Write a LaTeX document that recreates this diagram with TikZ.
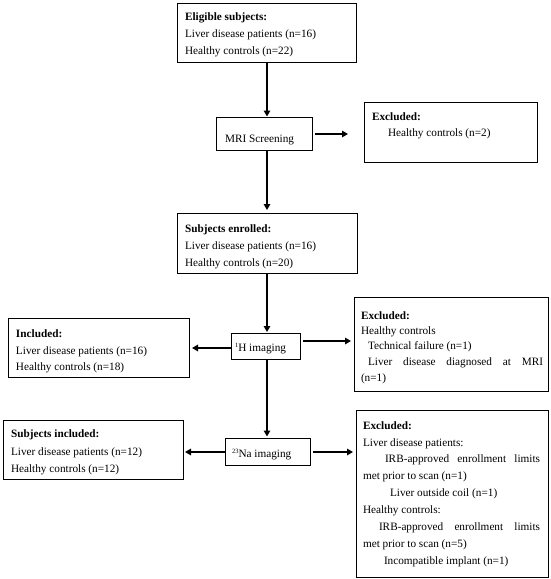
\documentclass[tikz,border=0pt]{standalone}
\usepackage{fontspec}
\setmainfont{Liberation Serif}
\usetikzlibrary{arrows.meta,calc}
\newcommand{\supx}[1]{\raisebox{3.2pt}{\fontsize{6.5}{7}\selectfont #1}}
\tikzset{
  box/.style={draw=black, line width=0.9pt, inner sep=0pt, outer sep=0pt, fill=white},
  txt/.style={anchor=base west, inner sep=0pt, outer sep=0pt, font=\fontsize{11.25}{14}\selectfont},
  conn/.style={line width=1.75pt, -{Triangle[length=6pt,width=6.5pt]}},
}
\begin{document}
\begin{tikzpicture}[x=1pt,y=-1pt]
\useasboundingbox[fill=white] (0,0) rectangle (550,579);
\coordinate (cx) at (267,0);
% boxes
\node[box, minimum width=179pt, minimum height=59pt] (B1) at (266.5,32.5) {};
\node[box, minimum width=96pt, minimum height=33pt] (MRI) at (264,134) {};
\node[box, minimum width=173pt, minimum height=60pt] (Ex1) at (450.5,132) {};
\node[box, minimum width=180pt, minimum height=60pt] (Enr) at (267,243) {};
\node[box, minimum width=69pt, minimum height=26pt] (H1) at (265.5,346) {};
\node[box, minimum width=181pt, minimum height=59pt] (Inc1) at (98.5,348) {};
\node[box, minimum width=194pt, minimum height=94pt] (Ex2) at (451,344) {};
\node[box, minimum width=85pt, minimum height=27pt] (Na) at (267.5,452) {};
\node[box, minimum width=180pt, minimum height=59pt] (Inc2) at (93,449.5) {};
\node[box, minimum width=192pt, minimum height=167pt] (Ex3) at (452,493.5) {};
% texts
\node[txt] (t1a) at (185,20) {\textbf{Eligible subjects:}};
\node[txt] (t1b) at (185,37) {Liver disease patients (n=16)};
\node[txt] (t1c) at (185,54) {Healthy controls (n=22)};
\node[txt] (tm) at (225,142) {MRI Screening};
\node[txt] (te1a) at (372,120) {\textbf{Excluded:}};
\node[txt] (te1b) at (388,136) {Healthy controls (n=2)};
\node[txt] (tn1) at (185,232) {\textbf{Subjects enrolled:}};
\node[txt] (tn2) at (185,249) {Liver disease patients (n=16)};
\node[txt] (tn3) at (185,266) {Healthy controls (n=20)};
\node[txt] (th) at (235,351) {\supx{1}H imaging};
\node[txt] (ti1a) at (16,337) {\textbf{Included:}};
\node[txt] (ti1b) at (16,354) {Liver disease patients (n=16)};
\node[txt] (ti1c) at (16,370) {Healthy controls (n=18)};
\node[txt] (te2a) at (361,319) {\textbf{Excluded:}};
\node[txt] (te2b) at (361,334) {Healthy controls};
\node[txt] (te2c) at (368,349) {Technical failure (n=1)};
\node[txt] (te2d) at (368,365) {\makebox[175pt][l]{Liver\hfill disease\hfill diagnosed\hfill at\hfill MRI}};
\node[txt] (te2e) at (361,381) {(n=1)};
\node[txt] (tna) at (232,457) {\supx{23}Na imaging};
\node[txt] (ti2a) at (11,437) {\textbf{Subjects included:}};
\node[txt] (ti2b) at (11,455) {Liver disease patients (n=12)};
\node[txt] (ti2c) at (11,472) {Healthy controls (n=12)};
\node[txt] (te3a) at (363,429) {\textbf{Excluded:}};
\node[txt] (te3b) at (363,446) {Liver disease patients:};
\node[txt] (te3c) at (385,462) {\makebox[155pt][l]{IRB-approved\hfill enrollment\hfill limits}};
\node[txt] (te3d) at (363,479) {met prior to scan (n=1)};
\node[txt] (te3e) at (390,496) {Liver outside coil (n=1)};
\node[txt] (te3f) at (363,513) {Healthy controls:};
\node[txt] (te3g) at (379,530) {\makebox[161pt][l]{IRB-approved\hfill enrollment\hfill limits}};
\node[txt] (te3h) at (363,547) {met prior to scan (n=5)};
\node[txt] (te3i) at (384,564) {Incompatible implant (n=1)};
% connectors
\draw[conn, shorten >=1pt] (B1.south -| cx) -- (MRI.north -| cx);
\draw[conn, shorten <=3pt, shorten >=16pt] (MRI.east) -- (MRI.east -| Ex1.west);
\draw[conn, shorten >=3pt] (MRI.south -| cx) -- (Enr.north -| cx);
\draw[conn, shorten >=1pt] (Enr.south -| cx) -- (H1.north -| cx);
\draw[conn, shorten >=3pt] (H1.west |- Inc1.east) -- (Inc1.east);
\draw[conn, shorten <=3pt, shorten >=3pt] ([yshift=5pt]H1.east) -- ([yshift=5pt]H1.east -| Ex2.west);
\draw[conn, shorten >=2pt] (H1.south -| cx) -- (Na.north -| cx);
\draw[conn, shorten >=2pt] (Na.west) -- (Na.west -| Inc2.east);
\draw[conn, shorten <=3pt, shorten >=3pt] (Na.east) -- (Na.east -| Ex3.west);
\end{tikzpicture}
\end{document}
